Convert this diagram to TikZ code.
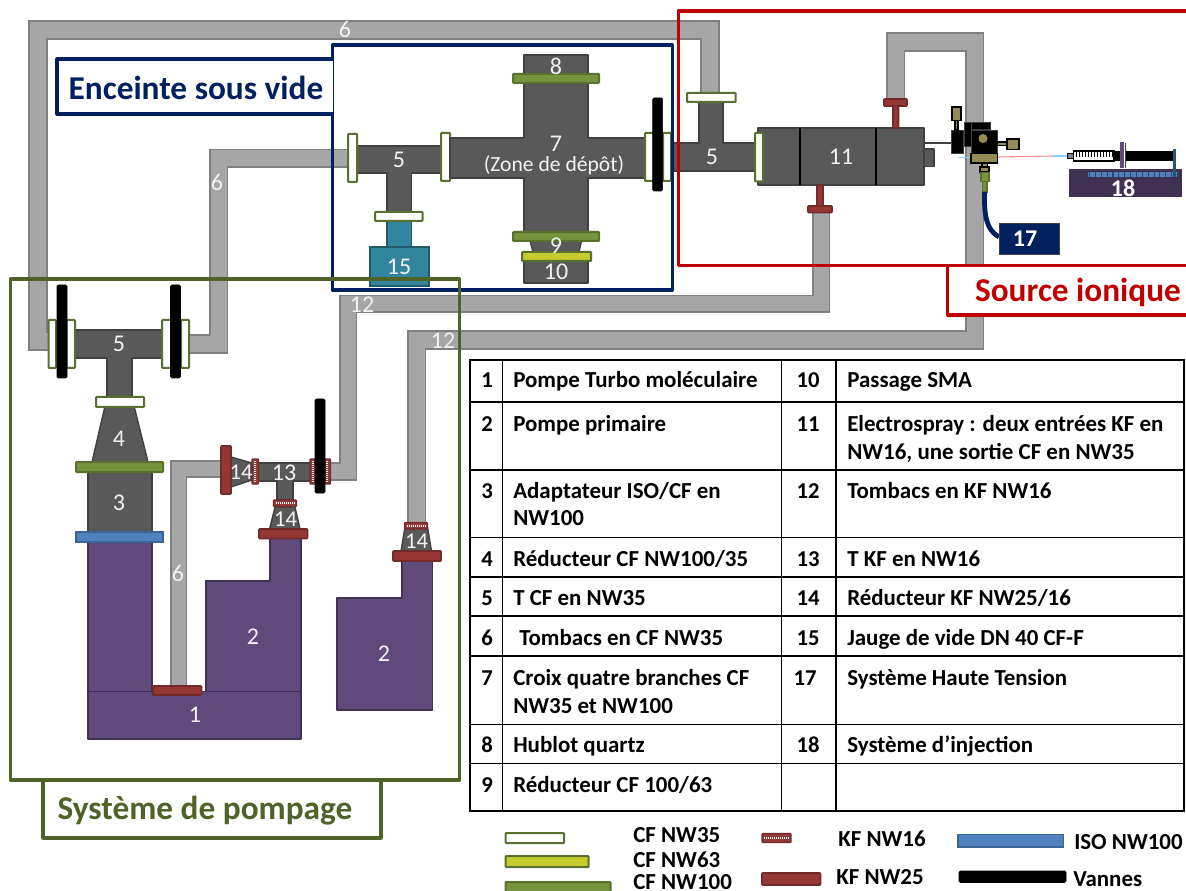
\documentclass[tikz,border=0pt]{standalone}
\usepackage{fontspec}
\setmainfont{Carlito}
\usepackage{tikz}
\definecolor{tubefill}{HTML}{A6A6A6}
\definecolor{tubeedge}{HTML}{808080}
\definecolor{steel}{HTML}{595959}
\definecolor{steeledge}{HTML}{404040}
\definecolor{cfedge}{HTML}{5A7030}
\definecolor{cfhundred}{HTML}{77933C}
\definecolor{cfsixty}{HTML}{C6CC2E}
\definecolor{kffill}{HTML}{953735}
\definecolor{kfedge}{HTML}{732B2A}
\definecolor{isofill}{HTML}{4F81BD}
\definecolor{isoedge}{HTML}{3A6596}
\definecolor{pumpfill}{HTML}{604A7B}
\definecolor{pumpedge}{HTML}{3F3151}
\definecolor{gaugefill}{HTML}{31859C}
\definecolor{gaugeedge}{HTML}{215968}
\definecolor{navyframe}{HTML}{002060}
\definecolor{redframe}{HTML}{C00000}
\definecolor{greenframe}{HTML}{4F6228}
\definecolor{olive}{HTML}{948A54}
\definecolor{basefill}{HTML}{403152}
\tikzset{
	tubeout/.style={draw=tubeedge,line join=miter},
	tubein/.style={draw=tubefill,line join=miter},
	steelpart/.style={fill=steel,draw=steeledge,line width=1pt,line join=round},
	pumppart/.style={fill=pumpfill,draw=pumpedge,line width=1.1pt,line join=round},
	gaugepart/.style={fill=gaugefill,draw=gaugeedge,line width=1.1pt},
	cfwhite/.style={fill=white,draw=cfedge,line width=1.5pt,rounded corners=0.5pt},
	cfgreen/.style={fill=cfhundred,draw=cfedge,line width=1.5pt,rounded corners=0.5pt},
	cfyellow/.style={fill=cfsixty,draw=cfedge,line width=1.5pt,rounded corners=0.5pt},
	kfbig/.style={fill=kffill,draw=kfedge,line width=1.2pt,rounded corners=0.5pt},
	kfsmall/.style={fill=kffill,draw=kfedge,line width=0.9pt,rounded corners=0.5pt},
	kfhatch/.style={draw=white,line width=1.6pt,dash pattern=on 1pt off 0.5pt},
	isoflange/.style={fill=isofill,draw=isoedge,line width=1.2pt},
	valve/.style={fill=black,rounded corners=1pt},
	brass/.style={fill=olive,draw=black,line width=0.8pt},
	blackpart/.style={fill=black,draw=steeledge,line width=0.6pt},
	frame/.style={line width=2.3pt,line join=round},
	partlabel/.style={text=white!95!black,font=\fontsize{18}{20}\selectfont,inner sep=0pt},
	smalllabel/.style={text=white!95!black,font=\fontsize{17}{20}\selectfont,inner sep=0pt},
	boldlabel/.style={text=white,font=\bfseries\fontsize{18}{20}\selectfont,inner sep=0pt},
	titlelabel/.style={font=\bfseries\fontsize{25}{28}\selectfont,inner sep=0pt},
	tablenum/.style={font=\bfseries\fontsize{17}{20}\selectfont,anchor=base,inner sep=0pt},
	tabletext/.style={font=\bfseries\fontsize{17.2}{20}\selectfont,anchor=base west,inner sep=0pt},
	legendtext/.style={font=\bfseries\fontsize{17.2}{20}\selectfont,anchor=west,inner sep=0pt}
}
\newcommand{\drawtube}[2]{%
	\draw[tubeout,line width=#1*0.75pt] #2;
	\draw[tubein,line width=(#1-3.5)*0.75pt] #2;%
}
\begin{document}
\begin{tikzpicture}[x=0.75pt,y=-0.75pt]
	\clip (0,0) rectangle (1186,891);
	
	% -------------------------------------------------
	% 1. Tombacs
	% -------------------------------------------------
	\drawtube{20}{(50,341) -- (38,341) -- (38,30) -- (710,30) -- (710,98)}
	\drawtube{19.5}{(190,344) -- (218.5,344) -- (218.5,158.5) -- (352,158.5)}
	\drawtube{17.5}{(228,469) -- (178.5,469) -- (178.5,690)}
	\drawtube{18.5}{(325,471.5) -- (348,471.5) -- (348,304) -- (821,304) -- (821,208)}
	\drawtube{19.5}{(416.5,526) -- (416.5,340) -- (974.5,340) -- (974.5,42) -- (895.5,42) -- (895.5,100)}
	
	% -------------------------------------------------
	% 2. Pumps
	% -------------------------------------------------
	\draw[pumppart] (88,542) rectangle (152,691.5);
	\draw[pumppart] (206,691.5) -- (206,581) -- (270,581) -- (270,538) -- (301,538) -- (301,691.5) -- cycle;
	\draw[pumppart] (88,691.5) rectangle (301,739);
	\draw[pumppart] (337,598) -- (402,598) -- (402,560) -- (432.5,560) -- (432.5,710) -- (337,710) -- cycle;
	\draw[kfbig] (153,686) rectangle (201.5,695);
	
	% -------------------------------------------------
	% 3. Left T, reducer and adapter
	% -------------------------------------------------
	\draw[steelpart] (75,330) -- (162,330) -- (162,358) -- (132,358) -- (132,397) -- (107,397) -- (107,358) -- (75,358) -- cycle;
	\draw[steelpart] (105,406) -- (134,406) -- (148,462) -- (92,462) -- cycle;
	\draw[steelpart] (88,472) rectangle (152,532);
	\draw[cfgreen] (76,462) rectangle (163,472);
	\draw[isoflange] (76,532) rectangle (163,542);
	\draw[cfwhite] (96,397) rectangle (144,407);
	\foreach \xa/\xb in {48.5/56,66.5/75,162/171,181/189}
		\draw[cfwhite] (\xa,320) rectangle (\xb,368);
	\draw[valve] (57,285) rectangle (67,378);
	\draw[valve] (170.5,285) rectangle (180.5,378);
	
	% -------------------------------------------------
	% 4. KF T and reducers
	% -------------------------------------------------
	\draw[steelpart] (258,463) -- (311,463) -- (311,481) -- (293,481) -- (293,500) -- (277,500) -- (277,481) -- (258,481) -- cycle;
	\draw[steelpart] (231,457) -- (252,463) -- (252,480) -- (231,487) -- cycle;
	\draw[steelpart] (275,507) -- (295,507) -- (300,529) -- (269.5,529) -- cycle;
	\draw[steelpart] (405,527) -- (427.5,527) -- (431.5,551) -- (401,551) -- cycle;
	\draw[kfbig] (221,446) rectangle (231,494);
	\draw[kfbig] (259,529) rectangle (307.5,538.5);
	\draw[kfbig] (393,551) rectangle (441,561);
	\foreach \xa in {252,310,324} {
		\draw[kfsmall] (\xa,459) rectangle (\xa+6.5,484);
		\draw[kfhatch] (\xa+3.25,461) -- (\xa+3.25,482);
	}
	\foreach \xa/\ya in {273.5/500,404.5/522.5} {
		\draw[kfsmall] (\xa,\ya) rectangle (\xa+23,\ya+6.5);
		\draw[kfhatch] (\xa+2,\ya+3.25) -- (\xa+21,\ya+3.25);
	}
	\draw[valve] (315,399) rectangle (325,493);
	
	% -------------------------------------------------
	% 5. Chamber: T, gauge and cross
	% -------------------------------------------------
	\draw[steelpart] (357,146) -- (441.5,146) -- (441.5,173) -- (411.5,173) -- (411.5,212) -- (387,212) -- (387,173) -- (357,173) -- cycle;
	\draw[gaugepart] (387,221) rectangle (411.5,247);
	\draw[gaugepart] (370,247) rectangle (429,286);
	\draw[cfwhite] (348,134) rectangle (357,182);
	\draw[cfwhite] (441,133) rectangle (450,181);
	\draw[cfwhite] (375,212) rectangle (422.5,221);
	\draw[steelpart] (524,55) -- (588,55) -- (588,138) -- (645,138) -- (645,178) -- (588,178) -- (588,232) -- (524,232) -- (524,178) -- (450,178) -- (450,138) -- (524,138) -- cycle;
	\draw[steelpart] (530,241) -- (581.5,241) -- (579,252) -- (533,252) -- cycle;
	\draw[steelpart] (524,261) rectangle (588,283);
	\draw[cfgreen] (513,74) rectangle (599,83);
	\draw[cfgreen] (513,232) rectangle (599,241);
	\draw[cfyellow] (522,252) rectangle (591,261);
	
	% -------------------------------------------------
	% 6. Right T and electrospray
	% -------------------------------------------------
	\draw[steelpart] (670,143) -- (699,143) -- (699,102) -- (723,102) -- (723,143) -- (758,143) -- (758,171) -- (670,171) -- cycle;
	\draw[steelpart] (924,149) rectangle (934,166.5);
	\draw[steelpart] (758,128) rectangle (924,185);
	\draw[black,line width=0.9pt] (800,128) -- (800,185) (876,128) -- (876,185);
	\draw[cfwhite] (645,133) rectangle (654,181);
	\draw[cfwhite] (663,133) rectangle (671,181);
	\draw[valve] (652.7,98) rectangle (662.7,191);
	\draw[cfwhite] (687,93) rectangle (735.5,102);
	\draw[cfwhite] (755,133) rectangle (763,181.5);
	\draw[kfbig] (817,185) rectangle (823,206);
	\draw[kfbig] (808,206) rectangle (832,212.5);
	\draw[kfbig] (893,106) rectangle (898.5,128);
	\draw[kfbig] (884,99) rectangle (907,106);
	
	% -------------------------------------------------
	% 7. Source head, high voltage and injection
	% -------------------------------------------------
	\draw[steeledge,line width=1.5pt] (924,143.5) -- (951,143.5);
	\draw[blue!30!cyan!50,line width=0.5pt] (958,157) -- (970,157);
	\draw[red!45,line width=0.8pt] (998,157) -- (1053,156);
	\draw[blue!35!cyan!50,line width=0.8pt] (1053,156) -- (1067,156);
	\draw[blackpart] (951,130) rectangle (963.5,153);
	\draw[blackpart] (964,122) rectangle (990,129.5);
	\draw[blackpart] (964,122) rectangle (971,146);
	\draw[blackpart] (971,130) rectangle (997,153.5);
	\fill[olive] (983,138.5) circle (3.4pt);
	\draw[brass] (955,120.5) rectangle (958,130);
	\draw[brass] (952,107) rectangle (961,120.5);
	\draw[brass] (997,142) rectangle (1007,145.5);
	\draw[brass] (1007,139) rectangle (1019,149.5);
	\draw[brass] (982,160) rectangle (987.5,167);
	\draw[brass] (971,153.5) rectangle (997.5,163);
	\draw[brass] (980,167) rectangle (989,172);
	\draw[cfedge,fill=cfhundred,line width=0.8pt] (981,172.5) rectangle (989,181.5);
	\draw[cfedge,fill=cfhundred,line width=0.8pt] (982.5,181.5) rectangle (987,192);
	\draw[navyframe,line width=3.6pt] (984.5,192) .. controls (984,218) and (987,230) .. (999,237);
	\draw[fill=navyframe,draw=steeledge,line width=0.6pt] (999,223) rectangle (1059,254);
	% syringe
	\draw[fill=gray,draw=black,line width=0.6pt] (1067,153.5) rectangle (1073.5,158.5);
	\draw[fill=white,draw=black,line width=0.8pt] (1073.5,151) rectangle (1114,161);
	\foreach \xa in {1076,1079,...,1112}
		\draw[black,line width=0.7pt] (\xa,151) -- (\xa,157.5);
	\fill[black] (1114,151) rectangle (1123,161);
	\fill[black] (1126,151) rectangle (1173,161);
	\draw[fill=basefill,draw=none] (1069,169) rectangle (1182,197);
	\fill[isofill] (1087.5,172) rectangle (1178,177);
	\draw[isoedge!70!black,line width=3.4pt,dash pattern=on 0.8pt off 3.6pt] (1089,174.5) -- (1178,174.5);
	\fill[pumpfill] (1120,142) rectangle (1124,168.5);
	\draw[steeledge,line width=1pt] (1125.2,143) -- (1125.2,168.5);
	\fill[gaugeedge] (1173,149) rectangle (1176,177);
	
	% -------------------------------------------------
	% 8. Frames
	% -------------------------------------------------
	\draw[frame,navyframe] (332.5,45) rectangle (672.5,290);
	\draw[frame,navyframe,fill=white] (332.5,114) -- (57,114) -- (57,59) -- (332.5,59);
	\draw[frame,redframe] (1195,11) -- (678.5,11) -- (678.5,265.5) -- (1195,265.5);
	\draw[frame,redframe,fill=white] (947.5,265.5) -- (947.5,315) -- (1195,315) -- (1195,265.5) -- cycle;
	\draw[frame,greenframe] (10.5,279) rectangle (459.5,780);
	\draw[frame,greenframe] (43,780) -- (43,838) -- (381,838) -- (381,780);
	\node[titlelabel,text=navyframe] (titlechamber) at (196,88) {Enceinte sous vide};
	\node[titlelabel,text=redframe] (titlesource) at (1078,292) {Source ionique};
	\node[titlelabel,text=greenframe] (titlepump) at (205,811) {Système de pompage};
	
	% -------------------------------------------------
	% 9. Part numbers
	% -------------------------------------------------
	\foreach \xa/\ya/\lbl [count=\i] in {195/715/1,253/637/2,384/654/2,119/503/3,119/439/4,119/344/5,399/160/5,712/157/5,345/29/6,217/182/6,178/573/6,556/144/7,556/66/8,556/246/9,556/272/10,841/157/11,362/305/12,443/341/12,284/473/13,399/267/15}
		\node[partlabel] (part\i) at (\xa,\ya) {\lbl};
	\foreach \xa/\ya [count=\i] in {241/472,285.5/519,416.5/541}
		\node[smalllabel] (reducer\i) at (\xa,\ya) {14};
	\node[partlabel,font=\fontsize{16.2}{18}\selectfont] (zone) at (554,165.5) {(Zone de dépôt)};
	\node[boldlabel] (hvbox) at (1025,239) {17};
	\node[boldlabel] (injectbox) at (1123,188) {18};
	
	% -------------------------------------------------
	% 10. Table
	% -------------------------------------------------
	\draw[black,line width=1.1pt] (470,360) rectangle (1184,811);
	\foreach \ya in {402,470,537.5,577,616,656,724.5,763.5}
		\draw[black,line width=1.1pt] (470,\ya) -- (1184,\ya);
	\foreach \xa in {502.5,781.5,836}
		\draw[black,line width=1.1pt] (\xa,360) -- (\xa,811);
	\foreach \xa/\ya/\lbl [count=\i] in {487/387.5/1,487/431.5/2,487/498.5/3,487/566.5/4,487/605.5/5,487/645.5/6,487/685.5/7,487/752.5/8,487/792.5/9,808/387.5/10,808/431.5/11,808/498.5/12,808/566.5/13,808/605.5/14,808/645.5/15,805/685.5/17,808/752.5/18}
		\node[tablenum] (num\i) at (\xa,\ya) {\lbl};
	\foreach \xa/\ya/\txt [count=\i] in {
		513/387.5/{Pompe Turbo moléculaire},
		513/431.5/{Pompe primaire},
		513/498.5/{Adaptateur ISO/CF  en},
		513/525.5/{NW100},
		513/566.5/{Réducteur CF NW100/35},
		513/605.5/{T CF en NW35},
		519/645.5/{Tombacs en CF NW35},
		513/685.5/{Croix quatre branches CF},
		513/713.5/{NW35 et NW100},
		513/752.5/{Hublot quartz},
		513/792.5/{Réducteur CF 100/63},
		847/387.5/{Passage SMA},
		847/431.5/{Electrospray : deux entrées KF en},
		847/459.5/{NW16, une sortie CF en NW35},
		847/498.5/{Tombacs en KF NW16},
		847/566.5/{T KF en NW16},
		847/605.5/{Réducteur KF NW25/16},
		847/645.5/{Jauge de vide DN 40 CF-F},
		847/685.5/{Système Haute Tension},
		847/752.5/{Système d’injection}}
		\node[tabletext] (row\i) at (\xa,\ya) {\txt};
	
	% -------------------------------------------------
	% 11. Legend
	% -------------------------------------------------
	\draw[cfwhite] (505.5,833) rectangle (564,843);
	\draw[cfyellow] (505.5,856) rectangle (588.5,867);
	\draw[cfgreen] (505.5,882) rectangle (610.5,900);
	\draw[kfsmall] (762,833.5) rectangle (791,842.5);
	\draw[kfhatch] (764,838) -- (789,838);
	\draw[kfbig] (762,873) rectangle (820.5,885);
	\draw[isoflange] (958,834.5) rectangle (1063.5,847);
	\draw[valve] (959,871) rectangle (1066,882.5);
	\node[legendtext] (lgcfa) at (633,835) {CF NW35};
	\node[legendtext] (lgcfb) at (633,860) {CF NW63};
	\node[legendtext] (lgcfc) at (633,882) {CF NW100};
	\node[legendtext] (lgkfa) at (838,839) {KF NW16};
	\node[legendtext] (lgkfb) at (836,877) {KF NW25};
	\node[legendtext] (lgiso) at (1074,842) {ISO NW100};
	\node[legendtext] (lgvan) at (1073,879) {Vannes};
\end{tikzpicture}
\end{document}
